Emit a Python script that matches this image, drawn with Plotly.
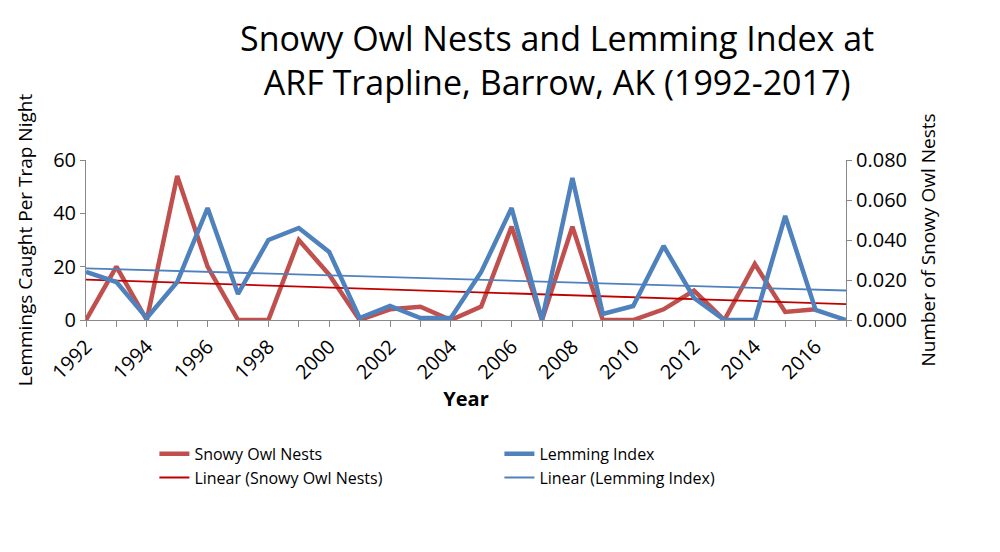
import numpy as np
import plotly.graph_objects as go

years = list(range(1992, 2018))
owl_years = list(range(1992, 2017))
owl_nests = [0, 20, 0, 54, 20, 0, 0, 30, 17, 0, 4, 5, 0, 5, 35, 0, 35, 0, 0, 4, 11, 0, 21, 3, 4]
lemming = [0.024, 0.019, 0.001, 0.019, 0.056, 0.013, 0.040, 0.046, 0.034, 0.001, 0.007, 0.001,
           0.001, 0.024, 0.056, 0.0, 0.071, 0.003, 0.007, 0.037, 0.011, 0.0, 0.0, 0.052, 0.005, 0.0]

RED = "#c0504d"
BLUE = "#4f81bd"

def trend(x, y):
    a, b = np.polyfit(x, y, 1)
    return [a * v + b for v in years]

fig = go.Figure()
fig.add_trace(go.Scatter(x=owl_years, y=owl_nests, mode="lines", name="Snowy Owl Nests",
                         line=dict(color=RED, width=4.5)))
fig.add_trace(go.Scatter(x=years, y=lemming, mode="lines", name="Lemming Index", yaxis="y2",
                         line=dict(color=BLUE, width=4.5)))
fig.add_trace(go.Scatter(x=years, y=trend(owl_years, owl_nests), mode="lines",
                         name="Linear (Snowy Owl Nests)", line=dict(color="#c00000", width=1.8)))
fig.add_trace(go.Scatter(x=years, y=trend(years, lemming), mode="lines", yaxis="y2",
                         name="Linear (Lemming Index)", line=dict(color=BLUE, width=1.8)))

tick = dict(color="#000000", size=20)
fig.update_layout(
    width=1000, height=552, plot_bgcolor="white", paper_bgcolor="white",
    font=dict(family="Open Sans, Liberation Sans", color="#000000"),
    margin=dict(l=78, r=162, t=152, b=240),
    annotations=[dict(text="Snowy Owl Nests and Lemming Index at<br>ARF Trapline, Barrow, AK (1992-2017)",
                      xref="paper", yref="paper", x=0.62, y=1.0, yshift=100, xanchor="center",
                      yanchor="middle", showarrow=False, font=dict(size=34))],
    xaxis=dict(range=[1992, 2017], tickvals=list(range(1992, 2017, 2)), tickangle=-45,
               tickfont=tick, showgrid=False, showline=True, linecolor="#888888",
               ticks="outside", ticklen=6, tickcolor="#888888",
               minor=dict(dtick=1, ticks="outside", ticklen=6, tickcolor="#888888"),
               title=dict(text="<b>Year</b>", font=dict(size=20), standoff=8)),
    yaxis=dict(range=[0, 60], dtick=20, tickfont=tick, showgrid=False, showline=True,
               linecolor="#888888", ticks="outside", tickcolor="#888888",
               title=dict(text="Lemmings Caught Per Trap Night", font=dict(size=19))),
    yaxis2=dict(range=[0, 0.08], dtick=0.02, tickformat=".3f", overlaying="y", side="right",
                tickfont=tick, showgrid=False, showline=True, linecolor="#888888",
                ticks="outside", tickcolor="#888888",
                title=dict(text="Number of Snowy Owl Nests", font=dict(size=19))),
    legend=dict(orientation="h", x=0.09, y=-0.73, xanchor="left", yanchor="top",
                entrywidth=300, font=dict(size=16)),
)
fig.write_html("out.html")
